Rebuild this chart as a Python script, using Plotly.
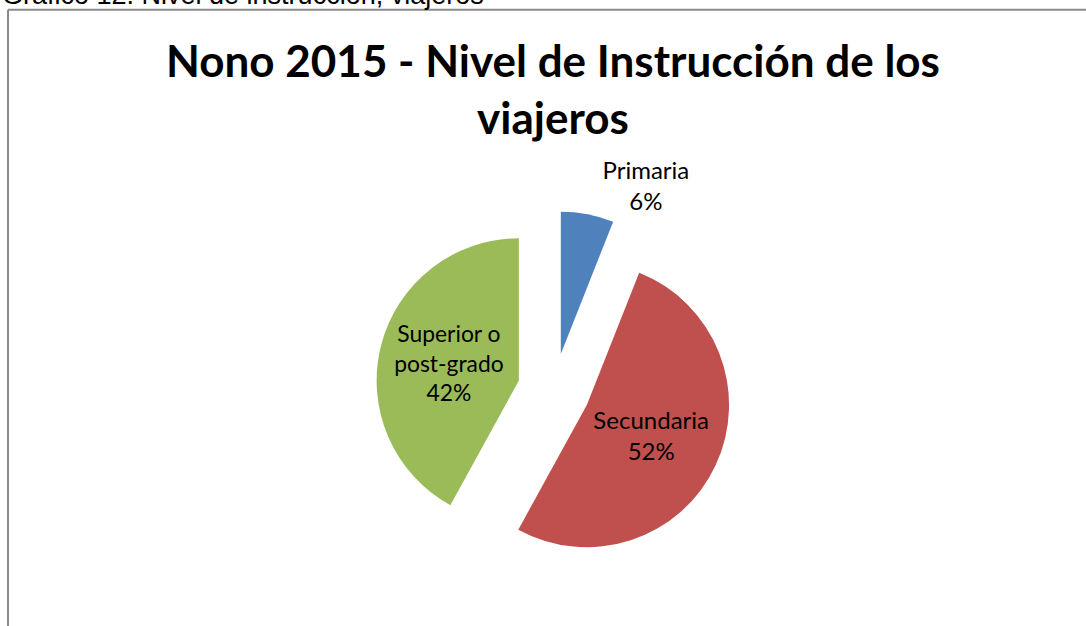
import plotly.graph_objects as go

labels = ["Primaria", "Secundaria", "Superior o<br>post-grado"]
values = [6, 52, 42]
colors = ["#4F81BD", "#C0504D", "#9BBB59"]
text_positions = ["outside", "inside", "inside"]

W, H = 1086, 626

fig = go.Figure(go.Pie(
    labels=labels,
    values=values,
    sort=False,
    direction="clockwise",
    rotation=0,
    pull=[0.255, 0.255, 0.255],
    marker=dict(colors=colors, line=dict(width=0)),
    texttemplate="%{label}<br>%{percent:.0%}",
    textposition=text_positions,
    insidetextorientation="horizontal",
    textfont=dict(family="Lato, Calibri, sans-serif", size=24, color="black"),
    showlegend=False,
    hoverinfo="label+percent",
    domain=dict(x=[362 / W, 746 / W], y=[(H - 611) / H, (H - 227) / H]),
))

border = dict(color="#8a8a8a", width=2)

fig.update_layout(
    width=W, height=H,
    margin=dict(l=0, r=0, t=0, b=0),
    paper_bgcolor="white",
    plot_bgcolor="white",
    title=dict(
        text="<b>Nono 2015 - Nivel de Instrucción de los<br>viajeros</b>",
        x=553 / W, xanchor="center",
        y=1 - 77 / H, yanchor="top",
        font=dict(family="Lato, Calibri, sans-serif", size=44, color="black"),
    ),
    shapes=[
        dict(type="line", xref="paper", yref="paper",
             x0=8 / W, x1=1.05, y0=1 - 10.5 / H, y1=1 - 10.5 / H, line=border),
        dict(type="line", xref="paper", yref="paper",
             x0=8 / W, x1=8 / W, y0=-0.2, y1=1 - 10.5 / H, line=border),
    ],
    annotations=[dict(
        text="Gráfico 12. Nivel de instrucción, viajeros",
        xref="paper", yref="paper",
        x=0, xanchor="left",
        y=1 - 13 / H, yanchor="bottom",
        showarrow=False,
        font=dict(family="Liberation Sans, Arial, sans-serif", size=27, color="black"),
    )],
)

fig.write_html(
    "out.html",
    config={"displayModeBar": False},
    post_script="document.body.style.margin='0';document.body.style.overflow='hidden';",
)
